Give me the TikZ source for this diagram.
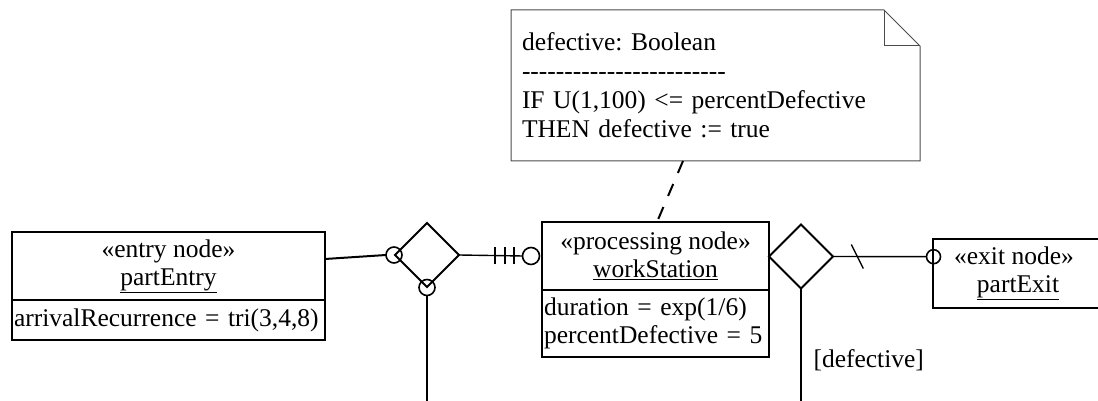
\documentclass[tikz,border=0pt]{standalone}
\usepackage{fontspec}
\setmainfont{Liberation Serif}
\usetikzlibrary{shapes.geometric,positioning,calc}

\frenchspacing
\newcommand{\umlfont}{\fontsize{25.5}{28}\selectfont}
\newcommand{\dashrow}{\foreach \k in {1,...,24}{\mbox{-}}}

\begin{document}
\begin{tikzpicture}[x=1pt, y=1pt,
    ubox/.style={rectangle, draw, line width=2pt, inner sep=0pt, outer sep=0pt,
                 anchor=north west, align=center, font=\umlfont},
    uattr/.style={rectangle, draw, line width=2pt, inner xsep=2pt, inner ysep=0pt,
                  outer sep=0pt, anchor=north west, align=left, font=\umlfont},
    choice/.style={diamond, draw, line width=2pt, inner sep=0pt, outer sep=0pt,
                   minimum width=64pt, minimum height=64pt},
    port/.style={circle, draw, line width=1.6pt, inner sep=0pt, outer sep=0pt,
                 minimum size=16pt},
    notebox/.style={rectangle, inner xsep=11pt, inner ysep=0pt, outer sep=0pt,
                    anchor=north west, align=left,
                    font=\fontsize{25.5}{29}\selectfont},
    noteline/.style={draw=black!70, line width=1pt},
    link/.style={line width=1.4pt},
]
\useasboundingbox (0,0) rectangle (1098,401);

%% --- note ---
\node[notebox, text width=387pt, minimum height=151pt] (note) at (511,391)
    {defective: Boolean\\
     \dashrow\\
     IF U(1,100) <= percentDefective\\
     THEN defective := true};
\draw[noteline] (note.north west) -- ($(note.north east)+(-36,0)$)
    -- ($(note.north east)+(0,-36)$) -- (note.south east)
    -- (note.south west) -- cycle;
\draw[noteline] ($(note.north east)+(-36,0)$) -- ($(note.north east)+(-36,-36)$)
    -- ($(note.north east)+(0,-36)$);

%% --- entry node ---
\node[ubox, minimum width=313pt, minimum height=68pt] (entryHead) at (12,169)
    {«entry node»\\\underline{partEntry}};
\node[uattr, text width=309pt, minimum height=40pt] (entryAttr) at (entryHead.south west)
    {arrivalRecurrence = tri(3,4,8)};

%% --- processing node ---
\node[ubox, minimum width=227pt, minimum height=68pt] (wsHead) at (542,179)
    {«processing node»\\\underline{workStation}};
\node[uattr, text width=223pt, minimum height=67pt] (wsAttr) at (wsHead.south west)
    {duration = exp(1/6)\\percentDefective = 5};

%% --- exit node ---
\node[ubox, minimum width=170pt, minimum height=69pt] (exitHead) at (933,162)
    {\hspace*{-4pt}«exit node»\hspace*{4pt}\\\underline{partExit}};

%% --- decisions and ports ---
\node[choice] (fork)   at (427,146)   {};
\node[choice] (branch) at (801,144.5) {};
\node[port] (forkIn)   at (394,146)   {};
\node[port] (forkDown) at (427,113.5) {};
\node[port, minimum size=17pt] (wsIn)   at (531,145)   {};
\node[port, minimum size=14pt] (exitIn) at (933.5,144.3) {};

\coordinate (forkEnd)   at (427,0);
\coordinate (branchEnd) at (801,0);

\node[font=\umlfont, anchor=west] (guard) at (810,41) {[defective]};

%% --- connectors ---
\draw[line width=2pt] ($(entryHead.south east)+(0,41)$) -- (forkIn.west);
\draw[link] (forkDown.south) -- (forkEnd);
\draw[link] (fork.east) -- (wsIn.west);
\foreach \dx in {36,26,17}
    \draw[link] ($(wsIn)+(-\dx,-8.5)$) -- ++(0,17);
\draw[link] (branch.east) -- (exitIn.west);
\draw[link] ($(branch.east)!0.26!(exitIn.west)+(-6,12)$) -- ++(12,-24);
\draw[link] (branch.south) -- (branchEnd);
\draw[line width=2pt, dash pattern=on 13pt off 12pt]
    ($(note.south west)+(172,0)$) -- ($(wsHead.north west)+(115,0)$);

\end{tikzpicture}
\end{document}
